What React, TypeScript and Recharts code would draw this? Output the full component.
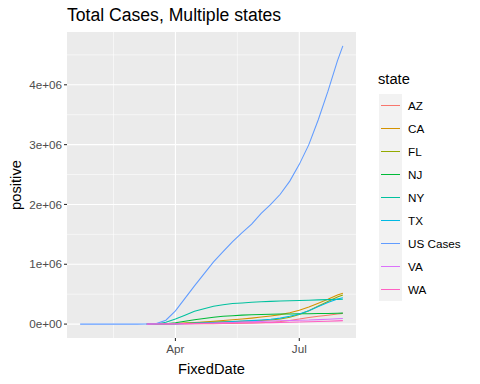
import { LineChart, Line, XAxis, YAxis, CartesianGrid, ReferenceLine } from "recharts";

// days since 2020-01-22
const days = [0, 7, 14, 21, 28, 35, 42, 49, 56, 63, 70, 77, 84, 91, 98, 105, 112, 119, 126, 133, 140, 147, 154, 161, 168, 175, 182, 189, 193];
const pre = [null, null, null, null, null, null, null];

const az = [...pre, 0.01e3, 0.03e3, 0.4e3, 1.4e3, 3.0e3, 4.2e3, 5.3e3, 7.2e3, 9.9e3, 12.2e3, 14.9e3, 18e3, 22.2e3, 31.3e3, 42.6e3, 59.9e3, 84.1e3, 109e3, 131e3, 149e3, 170e3, 179e3];
const ca = [...pre, 0.2e3, 0.7e3, 2.5e3, 9.2e3, 16.9e3, 26.7e3, 35.4e3, 46.5e3, 58.8e3, 71.1e3, 84.1e3, 99.9e3, 117e3, 136e3, 158e3, 191e3, 233e3, 284e3, 347e3, 414e3, 486e3, 515e3];
const fl = [...pre, 0.03e3, 0.3e3, 1.7e3, 7e3, 15.5e3, 22.5e3, 28.3e3, 33.2e3, 37.4e3, 42.4e3, 47.5e3, 52.3e3, 58.8e3, 67.4e3, 85.9e3, 114e3, 159e3, 223e3, 301e3, 379e3, 451e3, 487e3];
const nj = [...pre, 0.02e3, 0.4e3, 6.9e3, 22.3e3, 47.4e3, 71e3, 92e3, 113e3, 131e3, 140e3, 150e3, 157e3, 161e3, 165e3, 168e3, 170e3, 172e3, 174e3, 176e3, 178e3, 181e3, 183e3];
const ny = [...pre, 0.2e3, 2.4e3, 30.8e3, 83.7e3, 149e3, 214e3, 258e3, 299e3, 324e3, 343e3, 354e3, 366e3, 374e3, 380e3, 385e3, 390e3, 395e3, 400e3, 405e3, 409e3, 413e3, 416e3];
const tx = [...pre, 0.02e3, 0.1e3, 1.4e3, 3.7e3, 9.4e3, 16.9e3, 21.9e3, 27.1e3, 34.4e3, 43.9e3, 51.3e3, 58e3, 67.3e3, 79.8e3, 99.9e3, 131.9e3, 168e3, 222e3, 293e3, 361e3, 419e3, 440e3];
const us = [0, 0, 0, 0, 0, 0, 0, 1e3, 9e3, 65e3, 220e3, 430e3, 640e3, 840e3, 1040e3, 1210e3, 1380e3, 1530e3, 1670e3, 1850e3, 2000e3, 2170e3, 2390e3, 2670e3, 3000e3, 3420e3, 3890e3, 4400e3, 4650e3];
const va = [...pre, 0.01e3, 0.07e3, 0.4e3, 1.5e3, 4.0e3, 6.9e3, 10.3e3, 14.3e3, 20.3e3, 25.8e3, 32.9e3, 39.3e3, 45.4e3, 51.3e3, 55.3e3, 59.5e3, 63.2e3, 67e3, 74.4e3, 80.4e3, 88.9e3, 92.7e3];
const wa = [...pre, 0.3e3, 1.2e3, 3.2e3, 5.6e3, 8.7e3, 10.8e3, 12.3e3, 14.3e3, 15.9e3, 17.1e3, 18.6e3, 20.7e3, 22.7e3, 24.8e3, 27.2e3, 30.8e3, 34.2e3, 37.9e3, 42.3e3, 47.7e3, 54.2e3, 57.5e3];

const stateNames = ["AZ", "CA", "FL", "NJ", "NY", "TX", "US Cases", "VA", "WA"];
const stateValues = [az, ca, fl, nj, ny, tx, us, va, wa];
const COLORS = ["#F8766D", "#D39200", "#93AA00", "#00BA38", "#00C19F", "#00B9E3", "#619CFF", "#DB72FB", "#FF61C3"];

// Apr 1 and Jul 1
const xTicks = [70, 161];
const xTickLabels = ["Apr", "Jul"];
const xMinor = [24.5, 115.5];
const yTicks = [0, 1e6, 2e6, 3e6, 4e6];
const yMinor = [0.5e6, 1.5e6, 2.5e6, 3.5e6, 4.5e6];

const FONT = '"Liberation Sans", Arial, sans-serif';

const rows = days.map((d, i) => {
  const row: any = { day: d };
  stateNames.forEach((name, k) => {
    row[name] = stateValues[k][i];
  });
  return row;
});

const yFmt = (v: number) => (v === 0 ? "0e+00" : `${v / 1e6}e+06`);

export default function App() {
  return (
    <div style={{ position: "absolute", left: 0, top: 0, width: 480, height: 384, background: "#fff", fontFamily: FONT }}>
      <div style={{ position: "absolute", left: 67, top: 7, fontSize: 17.6, lineHeight: 1, color: "#000", whiteSpace: "nowrap" }}>
        Total Cases, Multiple states
      </div>
      <LineChart width={480} height={384} data={rows} margin={{ top: 32, right: 124, bottom: 16, left: 0 }}>
        <CartesianGrid fill="#EBEBEB" horizontal={false} vertical={false} />
        {xMinor.map((v) => (
          <ReferenceLine key={`xm${v}`} x={v} stroke="#FFFFFF" strokeWidth={0.55} zIndex={-50} />
        ))}
        {yMinor.map((v) => (
          <ReferenceLine key={`ym${v}`} y={v} stroke="#FFFFFF" strokeWidth={0.55} zIndex={-50} />
        ))}
        {xTicks.map((v) => (
          <ReferenceLine key={`x${v}`} x={v} stroke="#FFFFFF" strokeWidth={1.1} zIndex={-40} />
        ))}
        {yTicks.map((v) => (
          <ReferenceLine key={`y${v}`} y={v} stroke="#FFFFFF" strokeWidth={1.1} zIndex={-40} />
        ))}
        <XAxis
          dataKey="day"
          type="number"
          domain={[-9.65, 202.65]}
          allowDataOverflow
          ticks={xTicks}
          tickFormatter={(v: number) => xTickLabels[xTicks.indexOf(v)]}
          axisLine={false}
          tickSize={3}
          tickMargin={4}
          height={30}
          tickLine={{ stroke: "#333333", strokeWidth: 1.1 }}
          tick={{ fill: "#4D4D4D", fontSize: 11.7, fontFamily: FONT }}
          label={(props: any) => {
            const vb = props.viewBox;
            return (
              <text x={vb.x + vb.width / 2} y={374} textAnchor="middle" fontSize={14.7} fontFamily={FONT} fill="#000">
                FixedDate
              </text>
            );
          }}
        />
        <YAxis
          type="number"
          domain={[-232500, 4882500]}
          allowDataOverflow
          ticks={yTicks}
          tickFormatter={yFmt}
          axisLine={false}
          width={67}
          tickSize={3}
          tickMargin={2}
          tickLine={{ stroke: "#333333", strokeWidth: 1.1 }}
          tick={{ fill: "#4D4D4D", fontSize: 11.7, fontFamily: FONT }}
          label={(props: any) => {
            const vb = props.viewBox;
            const cy = vb.y + vb.height / 2;
            return (
              <text x={21} y={cy} transform={`rotate(-90 21 ${cy})`} textAnchor="middle" fontSize={14.7} fontFamily={FONT} fill="#000">
                positive
              </text>
            );
          }}
        />
        {stateNames.map((name, k) => (
          <Line
            key={name}
            type="linear"
            dataKey={name}
            name={name}
            stroke={COLORS[k]}
            strokeWidth={1.07}
            dot={false}
            activeDot={false}
            isAnimationActive={false}
          />
        ))}
      </LineChart>
      <div style={{ position: "absolute", left: 378, top: 72, fontSize: 14.7, lineHeight: 1, color: "#000" }}>state</div>
      <div style={{ position: "absolute", left: 379, top: 93.5 }}>
        {stateNames.map((name, k) => (
          <div key={name} style={{ display: "flex", alignItems: "center", height: 23 }}>
            <div style={{ width: 23, height: 23, background: "#F2F2F2", position: "relative" }}>
              <div style={{ position: "absolute", left: 2, right: 2, top: 11, height: 1.07, background: COLORS[k] }} />
            </div>
            <span style={{ marginLeft: 6, fontSize: 11.7, color: "#000", whiteSpace: "nowrap" }}>{name}</span>
          </div>
        ))}
      </div>
    </div>
  );
}
